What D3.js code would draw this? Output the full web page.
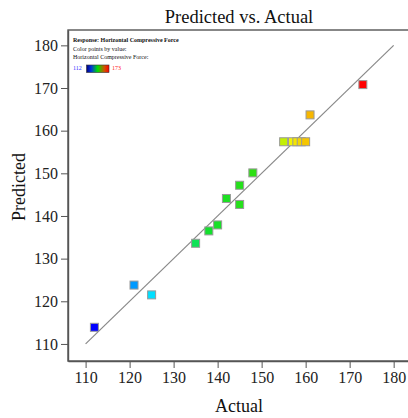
<!DOCTYPE html>
<html>
<head>
<meta charset="utf-8">
<script src="https://cdn.jsdelivr.net/npm/d3@7"></script>
<style>
  html, body { margin: 0; padding: 0; background: #fff; }
  svg { display: block; }
  text { font-family: "Liberation Serif", "Times New Roman", serif; }
</style>
</head>
<body>
<svg id="chart" width="408" height="418"></svg>
<script>
const actual    = [112, 121, 125, 135, 138, 140, 142, 145, 145, 148, 155, 157, 158, 159, 160, 161, 173];
const predicted = [113.9, 123.8, 121.5, 133.6, 136.5, 137.9, 144.1, 142.7, 147.2, 150.1, 157.4, 157.4, 157.4, 157.4, 157.4, 163.7, 170.8];
const tickValues = [110, 120, 130, 140, 150, 160, 170, 180];
const fitLine = [110, 180];
const colorMin = 112, colorMax = 173;
const colorStops = [112, 126, 137, 149, 157, 173];
const colorRange = ["#0000ff", "#00f0ff", "#10e030", "#30e010", "#f4f400", "#ff0000"];
const legendStops = [0, 0.2, 0.5, 0.8, 1];
const legendColors = ["#00007a", "#0030e0", "#00e000", "#d05000", "#ff0000"];
const titleText = "Predicted vs. Actual";
const xLabel = "Actual", yLabel = "Predicted";
const legendLines = ["Response: Horizontal Compressive Force", "Color points by value:", "Horizontal Compressive Force:"];

const FONT = '"Liberation Serif", "Times New Roman", serif';
const svg = d3.select("#chart");
const L = 68, R = 409.5, T = 30, B = 361;
const x = d3.scaleLinear().domain([106, 183.6]).range([L, R]);
const y = d3.scaleLinear().domain([106, 183.6]).range([B, T]);
const color = d3.scaleLinear().domain(colorStops).range(colorRange);

// frame
svg.append("rect").attr("x", L).attr("y", T).attr("width", R - L).attr("height", B - T)
  .attr("fill", "none").attr("stroke", "#555").attr("stroke-width", 1.4);

// axes
const xAxis = svg.append("g").attr("transform", `translate(0,${B})`)
  .call(d3.axisBottom(x).tickValues(tickValues).tickSize(7).tickSizeOuter(0).tickPadding(4).tickFormat(d3.format("d")));
const yAxis = svg.append("g").attr("transform", `translate(${L},0)`)
  .call(d3.axisLeft(y).tickValues(tickValues).tickSize(7).tickSizeOuter(0).tickPadding(3).tickFormat(d3.format("d")));
[xAxis, yAxis].forEach(g => {
  g.attr("font-family", FONT).attr("font-size", 16);
  g.select(".domain").attr("stroke", "#555").attr("stroke-width", 1.4);
  g.selectAll(".tick line").attr("stroke", "#555").attr("stroke-width", 1);
  g.selectAll(".tick text").attr("fill", "#222");
});

// fit line
svg.append("line")
  .attr("x1", x(fitLine[0])).attr("y1", y(fitLine[0]))
  .attr("x2", x(fitLine[1])).attr("y2", y(fitLine[1]))
  .attr("stroke", "#888").attr("stroke-width", 1.2);

// points
const s = 8;
svg.append("g").selectAll("rect").data(actual).join("rect")
  .attr("x", (d) => x(d) - s / 2)
  .attr("y", (d, i) => y(predicted[i]) - s / 2)
  .attr("width", s).attr("height", s)
  .attr("fill", d => color(d))
  .attr("stroke", "#999").attr("stroke-width", 1);

// title & labels
svg.append("text").attr("x", 239).attr("y", 23).attr("text-anchor", "middle")
  .style("font-size", "18.5px").attr("fill", "#111").text(titleText);
svg.append("text").attr("x", 239).attr("y", 412).attr("text-anchor", "middle")
  .style("font-size", "18px").attr("fill", "#111").text(xLabel);
svg.append("text").attr("transform", "translate(25,187) rotate(-90)").attr("text-anchor", "middle")
  .style("font-size", "18px").attr("fill", "#111").text(yLabel);

// legend
const lg = svg.append("g").attr("transform", "translate(73,0)");
legendLines.forEach((t, i) => {
  lg.append("text").attr("x", 0).attr("y", 42 + i * 8.7)
    .style("font-size", "6px").style("font-weight", i === 0 ? "bold" : "normal")
    .attr("fill", "#111").text(t);
});
const defs = svg.append("defs");
const grad = defs.append("linearGradient").attr("id", "cg");
legendStops.forEach((o, i) => {
  grad.append("stop").attr("offset", o).attr("stop-color", legendColors[i]);
});
lg.append("text").attr("x", 0).attr("y", 70).style("font-size", "6px").attr("fill", "#3333ff").text(colorMin);
lg.append("rect").attr("x", 13.5).attr("y", 65).attr("width", 22.5).attr("height", 7.5)
  .attr("fill", "url(#cg)").attr("stroke", "#333").attr("stroke-width", 0.6);
lg.append("text").attr("x", 39).attr("y", 70).style("font-size", "6px").attr("fill", "#ff2020").text(colorMax);
</script>
</body>
</html>
